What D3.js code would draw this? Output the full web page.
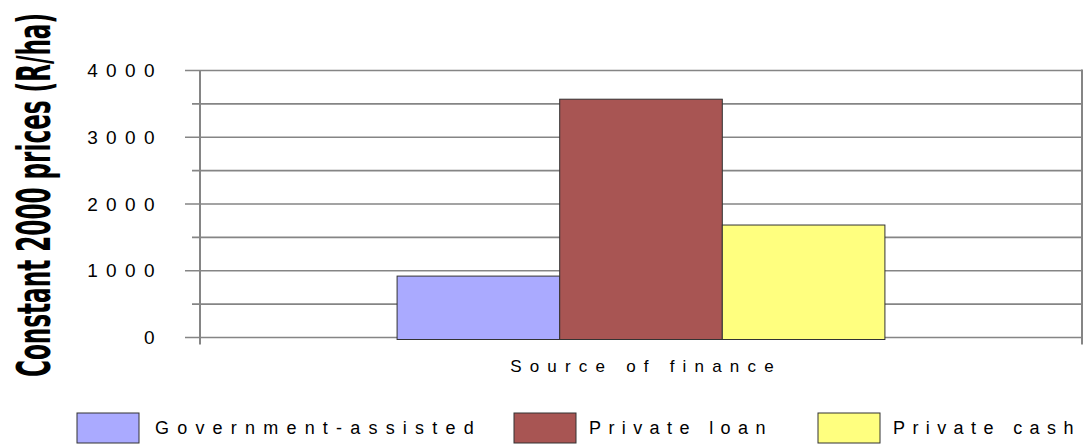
<!DOCTYPE html>
<html>
<head>
<meta charset="utf-8">
<script src="https://cdn.jsdelivr.net/npm/d3@7/dist/d3.min.js"></script>
<style>
body { margin: 0; background: #fff; }
text { font-family: "Liberation Sans", Arial, sans-serif; fill: #000; }
</style>
</head>
<body>
<div class="holder"></div>
<script>
var series = ['Government-assisted', 'Private loan', 'Private cash'];
var values = [920, 3570, 1685];
var colors = ['#aaaaff', '#a85553', '#ffff7f'];
var category = ['Source of finance'];
var yTicks = [0, 1000, 2000, 3000, 4000];
var yMinor = [500, 1500, 2500, 3500];

var width = 1091, height = 445;
var plotLeft = 200, plotRight = 1082, plotTop = 70.5, plotBottom = 337.5;

var svg = d3.select('.holder').append('svg')
  .attr('width', width)
  .attr('height', height);

var yScale = d3.scaleLinear()
  .domain([0, 4000])
  .range([plotBottom, plotTop]);

var xScale = d3.scaleBand()
  .domain(category)
  .range([plotLeft, plotRight])
  .paddingInner(0)
  .paddingOuter(0.404);

var seriesScale = d3.scaleBand()
  .domain(series)
  .range([0, xScale.bandwidth()]);

// gridlines, major and minor
var allTicks = yTicks.concat(yMinor);
svg.append('g').selectAll('line')
  .data(allTicks)
  .enter()
  .append('line')
  .attr('x1', function(d) { return yTicks.indexOf(d) >= 0 ? plotLeft - 15 : plotLeft - 8; })
  .attr('x2', plotRight)
  .attr('y1', function(d) { return yScale(d); })
  .attr('y2', function(d) { return yScale(d); })
  .attr('stroke', '#858585')
  .attr('stroke-width', 1.6);

// left and right axis lines
svg.append('line')
  .attr('x1', plotLeft).attr('x2', plotLeft)
  .attr('y1', plotTop).attr('y2', plotBottom + 7)
  .attr('stroke', '#858585').attr('stroke-width', 2);
svg.append('line')
  .attr('x1', plotRight).attr('x2', plotRight)
  .attr('y1', plotTop - 1).attr('y2', plotBottom + 7)
  .attr('stroke', '#858585').attr('stroke-width', 2);

// tick labels
svg.append('g').selectAll('text')
  .data(yTicks)
  .enter()
  .append('text')
  .attr('x', 163)
  .attr('y', function(d) { return yScale(d); })
  .attr('dy', '0.35em')
  .attr('text-anchor', 'end')
  .style('font-size', '19px')
  .style('letter-spacing', '8.4px')
  .text(function(d) { return d; });

// bars
svg.append('g').selectAll('rect')
  .data(values)
  .enter()
  .append('rect')
  .attr('x', function(d, i) { return xScale(category[0]) + seriesScale(series[i]); })
  .attr('y', function(d) { return yScale(d); })
  .attr('width', seriesScale.bandwidth())
  .attr('height', function(d) { return plotBottom + 2 - yScale(d); })
  .attr('fill', function(d, i) { return colors[i]; })
  .attr('stroke', '#333')
  .attr('stroke-width', 1);

// x category label
svg.append('text')
  .attr('x', xScale(category[0]) + xScale.bandwidth() / 2 + 5)
  .attr('y', 366)
  .attr('dy', '0.35em')
  .attr('text-anchor', 'middle')
  .style('font-size', '17px')
  .style('letter-spacing', '8.2px')
  .text(category[0]);

// y title, tall and squeezed
svg.append('text')
  .attr('transform', 'translate(50, 0) rotate(-90)')
  .attr('x', -377)
  .attr('y', 0)
  .attr('textLength', 364)
  .attr('lengthAdjust', 'spacingAndGlyphs')
  .style('font-family', '"DejaVu Sans", sans-serif')
  .style('font-stretch', 'condensed')
  .style('font-weight', 'bold')
  .style('font-size', '46px')
  .text('Constant 2000 prices (R/ha)');

// legend
var legendX = [77, 514, 818];
var legend = svg.append('g').selectAll('g')
  .data(series)
  .enter()
  .append('g')
  .attr('transform', function(d, i) { return 'translate(' + legendX[i] + ', 413)'; });

legend.append('rect')
  .attr('width', 62)
  .attr('height', 30)
  .attr('fill', function(d, i) { return colors[i]; })
  .attr('stroke', '#333')
  .attr('stroke-width', 1);

legend.append('text')
  .attr('x', function(d, i) { return i === 0 ? 78 : 75; })
  .attr('y', 15)
  .attr('dy', '0.35em')
  .style('font-size', '18px')
  .style('letter-spacing', function(d, i) { return i === 0 ? '8.2px' : '7.4px'; })
  .text(function(d) { return d; });
</script>
</body>
</html>
